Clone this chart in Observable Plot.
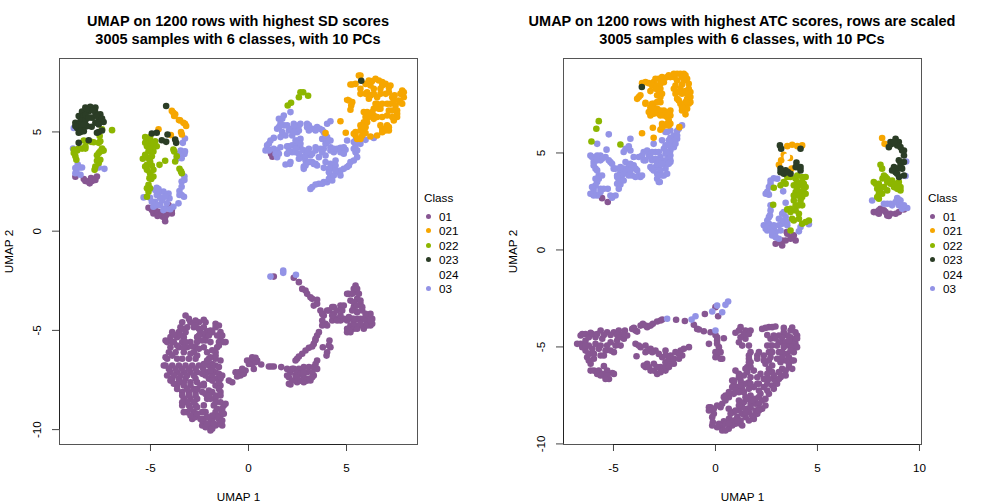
<!DOCTYPE html>
<html><head><meta charset="utf-8">
<script src="https://cdn.jsdelivr.net/npm/d3@7"></script>
<script src="https://cdn.jsdelivr.net/npm/@observablehq/plot@0.6"></script>
<style>
html,body{margin:0;padding:0;background:#fff;width:1008px;height:504px;overflow:hidden}
body{font-family:"Liberation Sans",Arial,sans-serif;color:#000;position:relative}
.panel{position:absolute;top:0;width:504px;height:504px}
.title{position:absolute;top:12px;left:0;width:476px;text-align:center;font-weight:bold;font-size:14.5px;line-height:18px;white-space:nowrap}
.legend{position:absolute;left:424px;top:191px;font-size:11.7px}
.legend div{position:absolute;white-space:nowrap}
.legend i{position:absolute;width:5px;height:5px;border-radius:50%}
svg{position:absolute;left:0;top:0;overflow:visible}
</style></head><body>
<div id="root"></div>
<script>
const classes = ["01","021","022","023","024","03"];
const classColors = ["#875692","#F6A600","#8DB600","#2B3D26","#FFFFFF","#9393E6"];
const drawOrder = ["01","03","022","021","023","024"];

const sdTitle = "UMAP on 1200 rows with highest SD scores";
const atcTitle = "UMAP on 1200 rows with highest ATC scores, rows are scaled";
const subtitle = "3005 samples with 6 classes, with 10 PCs";

const sdXTicks = [-5,0,5];
const sdYTicks = [-10,-5,0,5];
const atcXTicks = [-5,0,5,10];
const atcYTicks = [-10,-5,0,5];
const sdXDomain = [-9.64,8.62];
const sdYDomain = [-10.75,8.7];
const atcXDomain = [-7.45,10.1];
const atcYDomain = [-10.03,9.87];

const sd01 = [
[-8.83,2.74],[-8.32,2.53],[-8.1,2.41],[-7.9,2.63],[-7.73,2.75],[-8.03,2.67],[-8.2,2.5],[-7.98,2.53],[-7.81,2.58],[-8.4,2.63],
[-5.1,1.18],[-4.85,0.89],[-4.64,0.77],[-4.25,0.5],[-4.37,0.72],[-4.08,1.31],[-3.91,0.89],[-4.17,0.84],[-4.59,0.97],[-4.42,0.89],[-4.25,0.72],[-4.76,1.06],[-3.91,1.06],[-4.93,1.06],
[1.15,3.9],[1.2,4.07],[1.22,3.75],
[-3.21,-4.25],
[-3.38,-4.59],[-2.96,-4.59],[-2.53,-4.59],[-2.19,-4.59],
[-3.47,-4.84],[-3.13,-4.84],[-2.79,-4.84],[-1.68,-4.84],
[-3.89,-5.09],[-3.55,-5.09],[-3.21,-5.09],[-2.45,-5.09],[-1.85,-5.09],[-1.43,-5.09],
[-3.98,-5.34],[-3.64,-5.34],[-3.3,-5.34],[-2.62,-5.34],[-2.19,-5.34],[-1.43,-5.34],
[-4.15,-5.59],[-3.81,-5.59],[-3.38,-5.59],[-2.96,-5.59],[-2.62,-5.59],[-1.94,-5.59],[-1.51,-5.59],[-1.17,-5.59],
[-3.98,-5.85],[-3.55,-5.85],[-3.13,-5.85],[-2.7,-5.85],[-2.28,-5.85],[-1.6,-5.85],
[-4.06,-6.1],[-3.72,-6.1],[-3.3,-6.1],[-2.79,-6.1],[-2.11,-6.1],[-1.68,-6.1],
[-4.15,-6.43],[-3.64,-6.43],[-3.38,-6.43],[-3.04,-6.43],[-2.7,-6.43],[-2.02,-6.43],[-1.68,-6.43],
[-4.23,-6.77],[-3.89,-6.77],[-3.55,-6.77],[-3.21,-6.77],[-2.87,-6.77],[-2.53,-6.77],[-2.02,-6.77],[-1.68,-6.77],
[-3.98,-7.11],[-3.64,-7.11],[-3.3,-7.11],[-2.96,-7.11],[-2.62,-7.11],[-2.11,-7.11],[-1.68,-7.11],
[-3.89,-7.44],[-3.55,-7.44],[-3.21,-7.44],[-2.7,-7.44],[-2.02,-7.44],[-1.6,-7.44],[-1.43,-7.44],
[-3.64,-7.78],[-3.3,-7.78],[-2.96,-7.78],[-2.28,-7.78],[-1.68,-7.78],[-1.43,-7.78],
[-3.38,-8.11],[-3.04,-8.11],[-2.7,-8.11],[-2.36,-8.11],[-1.85,-8.11],[-1.43,-8.11],
[-3.3,-8.45],[-2.96,-8.45],[-2.62,-8.45],[-2.11,-8.45],[-1.68,-8.45],
[-3.38,-8.78],[-3.04,-8.78],[-2.7,-8.78],[-2.28,-8.78],[-1.77,-8.78],[-1.26,-8.78],
[-3.13,-9.12],[-2.79,-9.12],[-2.19,-9.12],[-1.68,-9.12],[-1.34,-9.12],
[-2.87,-9.46],[-2.28,-9.46],[-1.94,-9.46],[-1.51,-9.46],
[-2.36,-9.79],[-2.02,-9.79],[-1.68,-9.79],[-1.34,-9.79],[-1.94,-10.04],
[-3.04,-4.42],[-2.7,-4.5],[-2.28,-4.47],[-1.68,-4.67],[-1.51,-4.75],[-3.38,-4.92],[-2.53,-4.92],[-2.11,-5.04],[-3.47,-5.26],[-3.81,-5.21],[-3.21,-5.59],[-2.36,-5.17],[-1.6,-5.26],[-1.34,-5.26],[-1.26,-5.59],[-3.89,-5.59],[-3.64,-5.76],[-3.3,-5.88],[-2.87,-5.81],[-2.53,-5.93],[-1.51,-5.76],[-4.23,-5.51],[-4.23,-6.35],[-3.89,-6.27],[-2.96,-6.18],[-2.62,-6.27],[-1.94,-6.35],[-1.68,-6.27],[-1.85,-6.69],[-1.51,-6.85],[-4.06,-6.94],[-3.72,-6.94],[-3.38,-6.94],[-3.04,-6.94],[-2.7,-6.94],[-1.85,-6.94],[-1.51,-7.19],[-3.81,-7.27],[-3.47,-7.27],[-3.13,-7.27],[-2.79,-7.27],[-2.19,-7.27],[-1.85,-7.27],[-3.3,-7.61],[-2.96,-7.61],[-3.55,-7.61],[-1.85,-7.53],[-1.51,-7.61],[-2.79,-7.95],[-3.13,-7.95],[-3.38,-8.28],[-3.04,-8.28],[-2.7,-8.28],[-1.51,-7.95],[-1.68,-8.28],[-1.43,-8.28],[-3.13,-8.62],[-2.79,-8.62],[-1.94,-8.45],[-1.68,-8.62],[-1.43,-8.62],[-2.96,-8.95],[-2.62,-8.87],[-1.6,-8.95],[-2.11,-9.37],[-1.85,-9.54],[-2.7,-9.37],[-2.96,-9.29],[-1.43,-9.29],[-2.19,-9.88],[-1.85,-9.96],[-1.51,-9.71],[-2.36,-9.54],[-1.6,-9.37],[-2.36,-9.12],
[-2.31,-6.94],[-2.36,-7.19],[-2.28,-6.69],[-2.28,-7.69],[-2.02,-8.03],[-2.19,-8.2],[-2.02,-8.28],[-2.62,-7.95],[-2.45,-7.78],[-2.62,-7.61],[-2.19,-5.51],[-2.36,-5.51],[-2.02,-5.26],[-1.94,-5.01],[-2.7,-4.75],[-2.28,-4.84],[-2.53,-5.26],[-2.11,-6.52],[-1.85,-6.0],[-1.94,-7.02],[-1.43,-6.52],[-1.34,-7.27],[-1.43,-7.36],[-4.32,-6.77],[-4.15,-7.27],[-3.98,-7.53],[-3.81,-7.69],[-3.64,-7.95],[-3.38,-8.62],[-3.3,-9.12],[-2.45,-9.46],[-2.62,-9.2],[-2.11,-9.71],[-1.34,-8.95],[-1.26,-9.2],[-1.34,-9.54],[-1.17,-8.7],[-1.77,-9.71],[-1.85,-9.29],
[-0.83,-7.61],[-1.0,-7.53],[-0.66,-7.11],[-0.41,-7.27],[-0.15,-7.02],[-0.07,-6.52],[0.19,-6.35],[0.44,-6.52],[0.19,-6.69],[0.65,-6.72],[0.27,-6.94],[1.04,-6.82],[1.29,-6.82],[1.67,-6.85],
[-0.49,-7.11],[-0.24,-7.19],[-0.32,-6.94],[-0.58,-7.32],[0.1,-6.52],[0.36,-6.6],[0.02,-6.69],[0.36,-6.38],[1.16,-6.82],
[1.97,-6.94],[2.23,-6.94],[2.06,-7.36],[2.14,-7.73],[2.4,-7.27],[2.57,-6.94],[2.82,-6.85],[3.08,-6.85],[3.33,-6.85],[3.5,-6.52],[3.5,-6.94],[3.33,-7.27],[3.16,-7.52],[2.82,-7.36],[2.48,-7.61],
[2.14,-7.11],[2.31,-6.94],[2.48,-7.11],[2.65,-7.19],[2.65,-7.53],[2.99,-7.11],[3.25,-7.11],[3.42,-6.69],[3.08,-7.44],[2.23,-7.53],[1.97,-7.27],[2.99,-7.53],[2.06,-7.69],[2.82,-7.61],[3.25,-7.36],[2.82,-7.11],[2.48,-7.36],
[2.48,-6.43],[2.74,-6.18],[3.08,-5.88],[3.33,-5.68],[3.5,-5.26],[3.59,-5.09],[3.41,-5.5],[2.4,-6.52],[2.57,-6.32],[2.91,-6.01],[3.25,-5.81],[3.42,-5.43],
[3.79,-5.85],[4.13,-5.51],[4.18,-5.85],[3.98,-6.27],[4.01,-6.1],[4.1,-5.76],
[1.29,-2.29],[2.31,-2.35],[2.57,-2.57],[2.74,-2.91],[2.99,-3.16],[3.25,-3.41],[3.5,-3.46],[3.33,-3.75],[3.67,-4.0],[3.84,-4.25],[4.1,-4.0],[4.35,-3.83],[4.69,-3.75],[3.93,-4.67],[4.27,-4.5],[4.69,-4.5],[4.35,-4.17],
[3.16,-3.33],[2.91,-2.99],[3.5,-3.66],[3.76,-4.17],[3.76,-4.5],[4.01,-4.0],[4.27,-3.83],[4.52,-4.0],[4.86,-3.75],[4.52,-4.42],[5.03,-4.5],[4.86,-4.42],[4.52,-4.5],[4.69,-4.25],[4.27,-4.25],[4.01,-4.75],[3.76,-4.75],[4.78,-4.0],
[5.12,-3.16],[5.46,-2.74],[5.46,-3.08],[5.2,-3.5],[5.54,-3.41],[5.71,-3.66],[5.37,-3.83],[5.54,-4.08],[5.8,-4.0],[5.29,-4.42],[5.2,-4.75],[5.03,-5.09],[5.37,-4.92],[5.63,-4.75],[5.88,-4.92],[6.22,-4.75],[6.31,-4.42],[6.05,-4.33],[6.22,-4.17],[5.71,-4.42],
[5.03,-3.16],[5.29,-3.16],[5.37,-2.91],[5.54,-2.91],[5.63,-3.16],[5.71,-3.5],[5.37,-3.58],[5.29,-4.0],[5.54,-3.75],[5.8,-3.83],[5.03,-4.92],[5.2,-5.09],[5.54,-4.92],[5.8,-4.75],[6.05,-4.75],[6.05,-4.59],[6.31,-4.67],[5.37,-4.67],[5.54,-4.42],[5.88,-4.42],[6.22,-4.5],[5.97,-4.17],[5.71,-4.67],[5.37,-4.42],[5.12,-4.33],[5.12,-5.0]
];
const sd021 = [
[-3.91,6.06],[-3.79,5.8],[-3.32,5.46],[-3.18,5.3],[-3.44,5.0],[-4.59,5.13],[-3.96,4.84],[-3.83,5.97],[-3.4,4.87],[-3.55,5.6],[-3.74,5.89],[-3.49,5.58],[-3.24,5.41],
[5.71,7.84],[5.29,7.39],[5.97,7.42],[6.31,7.56],[6.65,7.59],[6.99,7.42],[7.16,7.22],[6.73,7.17],[6.39,7.17],[6.05,7.0],[5.71,6.92],[7.84,7.09],[7.92,6.75],[7.67,6.58],[7.33,6.75],[7.0,6.92],[6.56,6.75],[6.14,6.67],[6.48,6.42],[7.07,6.42],[7.5,6.33],[6.73,6.17],[7.16,6.08],[6.05,6.0],[6.39,5.83],[6.14,5.75],[7.58,5.75],[7.41,5.58],[6.82,5.75],[5.88,5.49],[5.97,5.24],[7.07,5.33],[6.82,5.16],[7.16,5.07],[5.71,5.07],[5.8,4.82],[5.46,4.82],[5.12,6.58],[5.24,6.33],[5.2,6.12],[4.69,5.54],[4.96,4.96],[6.22,4.77],[6.56,4.82],[3.93,4.94],[6.82,7.34],
[5.46,7.42],[6.14,7.59],[6.48,7.68],[6.82,7.51],[7.24,7.34],[6.22,7.34],[5.97,6.92],[6.39,6.92],[6.22,6.84],[7.16,7.0],[6.73,6.92],[7.75,6.92],[7.45,6.84],[7.92,7.0],[7.75,6.5],[7.24,6.42],[6.82,6.42],[6.65,6.17],[6.39,6.17],[7.58,6.08],[7.33,6.08],[5.88,6.0],[6.31,6.0],[6.56,5.75],[5.97,5.75],[7.33,5.75],[7.07,5.83],[6.05,5.49],[5.71,5.33],[6.99,5.07],[6.73,5.33],[7.16,5.24],[5.88,5.07],[5.54,4.65],[5.97,4.94],[5.37,4.91],[5.71,4.65],[7.58,5.91],[5.63,7.84],[5.2,7.39],[5.03,6.62],[5.29,6.5],
[5.46,4.99],[6.82,4.99],[5.88,5.24],[6.14,5.91],[6.39,5.66],[7.84,6.42],[7.41,6.58],[6.56,6.42],[5.71,7.17]
];
const sd022 = [
[-6.96,5.09],[-7.47,5.13],[-7.59,4.79],[-7.64,4.45],[-8.03,4.5],[-8.4,4.57],[-8.49,4.16],[-8.74,4.06],[-8.91,3.94],[-8.78,3.6],[-7.56,4.02],[-7.73,3.82],[-7.64,3.43],[-7.39,4.06],[-7.85,3.09],[-8.32,4.16],
[-8.24,4.53],[-7.9,4.48],[-7.56,4.53],[-8.66,4.16],[-8.83,3.77],[-7.64,3.94],[-7.47,4.16],[-7.73,3.55],[-7.56,3.6],[-7.81,3.26],[-8.32,4.28],[-8.91,4.11],
[-5.18,4.62],[-5.02,4.53],[-4.76,4.53],[-5.18,4.28],[-4.93,4.28],[-4.68,4.28],[-5.1,4.02],[-4.85,4.02],[-5.39,3.65],[-5.1,3.68],[-4.93,3.77],[-5.18,3.34],[-4.93,3.31],[-5.18,3.09],[-5.02,2.92],[-4.54,3.34],[-4.25,3.55],[-3.83,4.11],[-3.66,3.77],[-3.44,3.01],[-4.96,2.63],[-5.1,2.33],[-5.1,1.99],[-5.18,1.73],[-3.74,3.51],
[-5.27,4.45],[-5.02,4.74],[-5.27,4.74],[-4.85,4.45],[-5.05,4.11],[-5.27,3.85],[-5.02,3.52],[-5.27,3.26],[-4.85,3.09],[-5.05,2.67],[-4.85,2.75],[-5.18,2.16],[-5.02,2.16],[-3.79,4.02],[-3.52,3.14],[-3.4,2.92],
[2.79,7.0],[3.04,6.82],[2.57,6.75],[2.17,6.47],[2.0,6.33],[2.65,7.0]
];
const sd023 = [
[-8.32,6.23],[-8.07,6.26],[-7.81,6.23],[-8.49,6.03],[-8.15,6.03],[-7.81,5.98],[-7.56,5.89],[-8.66,5.8],[-8.4,5.8],[-7.98,5.72],[-7.64,5.63],[-7.39,5.5],[-8.83,5.46],[-8.57,5.55],[-8.32,5.58],[-7.81,5.46],[-8.74,5.2],[-8.49,5.2],[-8.24,5.29],[-8.0,5.26],[-8.66,4.96],[-8.4,5.04],[-7.64,5.0],[-7.73,4.96],[-8.66,4.45],[-8.15,4.58],[-7.47,5.07],
[-8.24,6.14],[-7.93,6.09],[-8.32,5.85],[-7.73,5.8],[-7.47,5.68],[-8.15,5.72],[-8.61,5.38],[-8.83,5.3],[-8.4,5.38],[-7.64,5.38],[-8.57,5.0],
[-4.2,6.31],[-4.93,4.92],[-4.68,4.96],[-4.13,4.87],[-4.42,4.58],[-4.2,4.5],[-3.74,4.62],[-3.69,4.45],
[5.75,7.58]
];
const sd024 = [[3.3,6.2],[4.9,6.9]];
const sd03 = [
[-8.91,5.2],[-8.95,4.16],[-8.71,3.35],[-8.49,3.21],[-8.78,3.01],[-8.57,2.84],[-7.81,3.18],[-7.35,3.14],[-8.83,3.18],[-8.61,3.21],[-8.83,2.92],[-7.64,3.21],
[-3.24,4.67],[-3.35,4.45],[-3.46,4.06],[-3.27,3.89],[-3.41,3.68],[-3.66,3.65],[-3.27,2.75],[-3.41,2.5],[-3.52,2.02],[-3.41,1.82],[-3.29,1.73],[-3.57,1.4],[-4.68,2.19],[-4.34,1.99],[-4.08,1.9],[-4.59,1.9],[-5.35,1.7],[-5.02,1.68],[-4.76,1.48],[-4.42,1.56],[-4.03,1.65],[-4.85,1.23],[-4.51,1.31],[-3.99,1.11],[-4.25,1.14],
[-4.68,1.82],[-4.25,1.74],[-4.51,1.68],[-4.76,2.07],[-4.59,2.12],[-4.93,1.48],[-4.68,1.31],[-4.17,1.4],[-4.34,1.06],[-3.83,1.23],[-3.41,2.24],[-3.52,1.82],[-3.27,2.58],[-3.24,4.02],[-3.57,3.89],
[1.72,5.66],[2.14,6.0],[1.55,5.24],[1.8,5.33],[1.72,4.99],[2.06,5.07],[2.31,5.41],[2.57,5.33],[2.48,4.99],[2.23,4.82],[1.89,4.82],[2.99,5.41],[3.25,5.16],[3.5,5.24],[3.76,5.1],[4.01,5.41],[4.18,5.54],[1.29,4.7],[1.04,4.4],[0.87,4.07],[1.46,4.07],[2.06,4.27],[2.48,4.57],[2.65,4.2],[2.4,3.98],[1.97,3.9],[2.74,3.73],[3.08,4.15],[3.42,4.23],[4.01,4.74],[3.93,4.4],[4.18,4.23],[3.76,3.98],[3.16,3.81],[2.91,3.56],[3.25,3.48],[3.5,3.31],[2.82,3.14],[2.14,3.48],[1.89,3.36],[4.52,4.15],[4.95,4.1],[4.69,3.98],[5.03,4.57],[5.46,4.32],[5.71,4.4],[5.97,4.6],[5.46,3.98],[5.54,3.73],[5.2,3.48],[5.03,3.23],[4.69,3.06],[4.35,3.14],[3.93,3.48],[3.84,3.19],[4.18,2.8],[4.01,2.47],[3.59,2.39],[3.25,2.22],[1.46,3.73],[4.44,3.56],[6.39,4.7],
[1.55,5.66],[1.8,5.83],[1.63,5.41],[1.46,5.16],[1.97,5.33],[2.14,5.16],[2.4,5.24],[2.57,5.07],[2.31,4.99],[2.65,5.41],[3.08,5.33],[3.42,5.07],[3.64,5.16],[1.63,4.74],[1.12,4.57],[0.95,4.32],[1.04,4.07],[1.55,3.9],[1.97,4.27],[2.23,4.32],[2.48,4.32],[2.4,4.57],[2.65,4.65],[2.65,4.4],[2.82,4.07],[2.57,3.9],[2.23,3.98],[2.06,4.03],[2.57,3.65],[2.91,3.81],[3.25,3.9],[3.0,3.98],[3.42,4.07],[3.59,3.73],[3.08,3.48],[3.42,3.39],[3.76,4.65],[4.01,4.49],[3.84,4.15],[4.1,4.57],[4.18,4.07],[3.93,3.81],[4.35,3.98],[4.69,4.2],[4.86,3.9],[5.46,4.57],[5.63,4.57],[5.37,4.15],[5.54,4.07],[5.37,3.56],[5.12,3.31],[4.86,3.14],[4.61,2.97],[4.1,3.14],[4.18,3.39],[4.44,3.31],[4.35,2.81],[4.1,2.64],[3.84,2.47],[3.42,2.35],[3.16,2.13],[2.11,3.39],[3.33,3.39],[2.82,3.26],
[1.63,4.23],[1.29,4.15],[1.38,3.9],[2.4,4.15],[2.91,3.31],[3.67,4.15],[4.35,4.15],[4.86,4.23],[4.69,2.81],[4.44,3.06],[4.1,2.97],[4.27,2.55],[3.76,2.39],[5.37,4.49],[3.08,5.07],[3.84,4.99],[2.99,5.24],[3.93,4.82],[4.18,4.57],
[1.12,-2.29],[1.77,-1.98],[1.77,-2.1],[2.42,-2.2]
];

const atc01 = [
[-5.56,2.67],[-5.28,2.47],
[2.95,0.32],[3.27,0.23],[3.27,0.49],[3.49,0.92],[3.76,0.66],[3.93,0.49],[3.11,0.4],[3.44,0.49],[3.52,0.84],[3.68,0.58],[3.84,0.75],
[7.85,1.95],[8.09,2.12],[8.34,1.95],[8.5,1.75],[8.83,1.87],[9.24,2.09],[8.01,2.04],[8.26,2.04],[8.01,1.87],[8.58,1.87],[8.42,1.78],[8.99,1.95],[7.76,1.95],
[-6.61,-4.41],[-6.61,-4.84],[-6.37,-4.33],[-6.12,-4.27],[-6.37,-4.67],[-5.88,-4.5],[-5.63,-4.15],[-5.55,-4.58],[-5.31,-4.24],[-4.98,-4.24],[-4.74,-4.15],[-4.44,-4.15],[-4.49,-4.58],[-4.33,-4.41],[-4.82,-4.67],[-5.14,-4.76],[-6.37,-5.19],[-6.04,-5.1],[-5.72,-5.1],[-5.39,-5.19],[-4.98,-5.27],[-4.65,-4.93],[-6.29,-5.53],[-5.63,-5.44],[-6.12,-5.87],[-6.12,-6.22],[-5.8,-6.39],[-5.47,-6.47],[-5.22,-6.65],[-5.06,-6.34],[-5.47,-5.99],[-5.96,-5.61],[-5.31,-6.22],
[-6.53,-4.33],[-6.78,-4.84],[-6.53,-5.01],[-6.21,-4.5],[-6.04,-4.33],[-6.21,-4.93],[-5.88,-4.84],[-5.63,-4.93],[-5.8,-4.33],[-5.47,-4.38],[-5.14,-4.38],[-4.82,-4.38],[-4.57,-4.38],[-5.31,-4.93],[-4.74,-4.5],[-4.9,-4.93],[-5.14,-5.19],[-5.47,-5.44],[-6.37,-4.93],[-6.21,-5.36],[-5.96,-5.36],[-6.21,-5.7],[-5.96,-6.22],[-5.72,-6.22],[-5.55,-6.39],[-5.31,-6.47],[-4.98,-6.39],[-5.63,-6.47],[-5.39,-6.65],
[-4.0,-4.02],[-3.84,-4.21],[-3.56,-3.81],[-3.35,-3.98],[-3.07,-3.81],[-2.86,-3.69],[-2.61,-3.59],[-1.93,-3.6],[-1.5,-3.66],[-3.67,-3.9],[-3.43,-3.9],[-3.18,-3.9],[-2.69,-3.64],[-3.92,-4.15],[-4.08,-4.07],
[-3.92,-4.84],[-3.87,-5.48],[-3.67,-5.01],[-3.43,-4.93],[-3.43,-5.27],[-3.18,-5.1],[-2.94,-5.19],[-3.35,-5.87],[-3.43,-6.04],[-3.18,-6.22],[-2.86,-6.39],[-2.69,-6.04],[-2.45,-5.79],[-2.61,-5.53],[-2.2,-5.44],[-1.96,-5.27],[-1.71,-5.19],[-1.63,-5.44],[-1.3,-5.01],[-2.04,-5.87],[-2.45,-6.22],[-3.02,-5.87],[-2.45,-5.19],
[-3.76,-4.93],[-3.27,-5.19],[-3.1,-5.27],[-2.78,-5.36],[-3.51,-5.96],[-3.27,-6.04],[-3.02,-6.22],[-2.69,-6.3],[-2.45,-6.04],[-2.2,-5.87],[-2.28,-5.61],[-2.04,-5.61],[-1.79,-5.36],[-1.55,-5.1],[-1.79,-5.61],[-2.86,-6.04],[-2.45,-5.44],[-2.28,-6.04],
[-0.52,-3.3],[0,-2.95],[0.13,-3.42],[-1.06,-3.86],[-0.9,-4.07],[-0.57,-4.19],[-0.24,-4.24],[0,-4.38],[0.41,-4.55],[0.08,-4.67],[-0.32,-4.84],[0.17,-5.01],[0.08,-5.44],[0.33,-5.61],[0.08,-4.84],[0.25,-5.27],[0,-5.27],[0.25,-5.61],[0,-5.53],[0.08,-4.5],[-0.81,-4.1],
[1.23,-3.98],[1.47,-4.15],[1.72,-4.15],[0.98,-4.27],[2.29,-4.07],[2.62,-3.98],[2.94,-3.95],[3.35,-4.02],[3.76,-4.0],[4.0,-4.41],[1.15,-4.76],[1.47,-4.58],[1.64,-4.93],[2.7,-4.58],[3.11,-4.41],[3.52,-4.41],[3.92,-4.84],[2.78,-4.93],[3.27,-4.76],[3.6,-4.93],[1.64,-5.44],[2.05,-5.44],[2.62,-5.27],[3.11,-5.27],[3.52,-5.36],[3.84,-5.27],[0.98,-6.22],[1.72,-5.79],[2.62,-5.7],[3.02,-5.61],[3.44,-5.7],[3.76,-5.7],[1.56,-6.3],[1.88,-6.22],[2.62,-6.13],[3.27,-6.13],[3.6,-6.04],[0.9,-6.82],[1.23,-6.73],[1.64,-6.82],[2.05,-6.56],[2.37,-6.65],[2.86,-6.65],[3.19,-6.56],[1.07,-7.07],[1.88,-7.07],[2.37,-7.07],[2.78,-6.99],[3.02,-6.9],[0.49,-7.5],[0.9,-7.42],[1.39,-7.33],[1.72,-7.5],[2.21,-7.42],[2.62,-7.42],[0.33,-7.93],[1.15,-7.76],[1.39,-7.85],[1.96,-7.93],[2.29,-7.76],[-0.24,-8.11],[0.08,-8.02],[0.65,-8.19],[1.15,-8.28],[1.56,-8.19],[1.96,-8.28],[2.29,-8.19],[-0.08,-8.45],[0.74,-8.79],[1.07,-8.62],[1.48,-8.62],[1.88,-8.71],[-0.13,-8.88],[0.33,-9.14],[0.65,-9.22],[0.98,-8.96],[0.33,-9.31],[0.41,-8.84],
[1.15,-4.15],[1.39,-4.33],[1.64,-4.33],[2.45,-4.02],[2.78,-3.98],[3.35,-4.24],[3.68,-4.15],[3.92,-4.24],[2.86,-4.41],[3.27,-4.5],[3.68,-4.5],[3.92,-4.58],[3.76,-4.76],[3.44,-4.76],[3.11,-4.76],[2.7,-4.93],[3.02,-4.93],[3.35,-5.01],[3.76,-5.01],[2.78,-5.27],[3.27,-5.27],[3.68,-5.19],[4.0,-5.01],[2.7,-5.53],[3.27,-5.53],[3.6,-5.53],[1.72,-5.27],[2.13,-5.27],[1.64,-5.61],[2.45,-5.87],[2.78,-5.96],[3.19,-5.79],[3.6,-5.87],[1.72,-6.04],[1.56,-6.04],[2.21,-6.39],[2.54,-6.39],[2.78,-6.3],[3.11,-6.3],[3.44,-6.22],[1.39,-6.47],[1.72,-6.56],[1.15,-6.56],[0.82,-6.73],[1.47,-6.9],[2.13,-6.9],[2.54,-6.9],[2.94,-6.73],[0.82,-7.07],[1.31,-7.16],[1.64,-7.16],[2.13,-7.25],[2.54,-7.25],[2.86,-7.16],[0.66,-7.59],[1.47,-7.59],[1.96,-7.68],[2.45,-7.68],[0.49,-7.76],[1.72,-7.93],[2.13,-7.93],[-0.32,-8.11],[-0.08,-8.19],[0.25,-8.11],[1.31,-8.11],[1.72,-8.11],[2.13,-8.19],[0.9,-8.36],[1.31,-8.45],[1.64,-8.36],[2.05,-8.45],[-0.16,-8.62],[0.66,-8.71],[0.9,-8.79],[1.23,-8.79],[1.64,-8.79],[0.49,-8.96],[0.17,-8.96],[0.82,-9.05],[0.08,-9.14],[0.49,-9.31],[-0.16,-9.05],[1.23,-8.96],
[2.05,-5.61],[2.37,-5.44],[2.37,-5.7],[2.54,-4.93],[2.54,-4.39],[2.94,-4.56],[3.6,-4.67],[4.0,-4.56],[3.84,-5.7],[3.76,-6.13],[3.44,-6.47],[3.11,-6.65],[3.27,-6.47],[2.86,-6.47],[2.62,-6.65],[2.05,-6.9],[1.72,-6.9],[1.23,-6.99],[0.98,-7.25],[0.66,-7.33],[0.41,-7.59],[1.15,-7.33],[2.13,-7.59],[1.8,-7.76],[1.56,-7.68],[1.15,-8.02],[0.98,-8.28],[0.74,-8.45],[1.47,-8.36],[1.8,-8.54],[2.13,-8.28],[2.45,-8.02],[1.31,-9.05],[1.07,-8.79],[0.66,-8.96],[-0.32,-8.28],[0.9,-6.73],[1.15,-6.39],[1.47,-6.13],[1.64,-5.79],[1.31,-4.93],[1.23,-4.5]
];
const atc021 = [
[-1.72,9.08],[-1.47,9.0],[-2.04,8.91],[-2.37,8.91],[-2.78,8.82],[-3.6,8.6],[-3.27,8.6],[-3.03,8.65],[-2.7,8.57],[-1.96,8.48],[-1.64,8.53],[-1.31,8.57],[-3.19,8.19],[-2.78,8.22],[-1.88,8.14],[-1.47,8.19],[-1.23,8.14],[-3.68,7.97],[-3.84,7.79],[-2.7,7.88],[-1.8,7.71],[-1.39,7.79],[-3.43,7.59],[-3.03,7.54],[-2.7,7.62],[-1.31,7.54],[-1.47,7.36],[-3.19,7.19],[-2.86,7.28],[-2.53,7.19],[-2.21,7.19],[-3.19,6.93],[-2.78,7.02],[-2.21,6.93],[-1.47,6.99],[-2.29,6.68],[-2.45,6.42],[-2.7,6.2],[-2.21,6.5],[-3.07,6.3],[-3.6,6.02],[-1.77,6.33],[-3.03,5.78],
[-1.88,9.08],[-1.64,8.91],[-1.39,8.82],[-2.21,8.91],[-2.62,8.91],[-2.94,8.82],[-3.43,8.65],[-2.53,8.65],[-3.11,8.48],[-2.86,8.48],[-2.7,8.31],[-2.04,8.31],[-1.72,8.31],[-1.31,8.31],[-1.96,8.05],[-1.64,8.05],[-1.39,8.05],[-3.76,7.88],[-2.86,7.97],[-1.47,7.62],[-1.72,7.54],[-1.23,7.62],[-3.03,7.28],[-3.27,7.11],[-3.03,7.02],[-2.7,7.19],[-2.45,7.02],[-3.11,7.54],[-2.86,7.62],[-3.43,7.54],[-2.29,7.11],[-2.37,6.5],[-2.62,6.33],[-1.64,7.19],
[-1.88,8.74],[-1.55,8.74],[-1.88,7.79],[-1.23,7.88],[-3.19,7.36],[-2.53,6.93],[-2.7,6.93],[-2.37,6.85],[-2.62,6.5],[-2.29,6.42],[-2.94,8.31],[-2.62,8.05],[-2.29,9.0],[-2.04,9.08],[-1.55,9.08],[-1.39,7.28],[-1.64,7.36],
[3.52,5.35],[3.76,5.42],[4.01,5.35],[4.25,5.39],[3.35,4.91],[3.22,4.62],[3.11,4.39],[3.65,4.74],[3.73,4.19],
[8.17,5.77],[8.29,5.47]
];
const atc022 = [
[-5.72,6.64],[-5.84,6.25],[-6.08,5.59],[-4.66,5.44],
[3.93,3.67],[4.25,3.76],[4.42,3.76],[3.44,3.41],[2.86,3.21],[3.52,3.76],[4.09,3.33],[4.33,3.41],[4.17,2.98],[4.42,2.9],[3.93,2.98],[4.17,2.55],[4.25,2.3],[3.84,2.55],[3.52,2.09],[3.93,2.04],[4.09,1.87],[2.83,2.33],[4.58,1.52],[4.25,1.35],[3.84,1.52],[3.68,1.0],
[4.01,3.84],[3.68,3.76],[3.35,3.5],[3.19,3.33],[4.25,3.5],[4.01,3.5],[3.84,3.33],[4.33,3.15],[4.01,3.15],[4.01,2.81],[4.25,2.73],[3.84,2.81],[4.42,3.24],[3.93,2.3],[4.09,2.3],[3.68,2.12],[4.09,1.61],[3.76,1.61],[4.42,1.44],[3.68,1.95],
[8.09,4.39],[8.34,3.76],[8.19,3.68],[7.85,3.41],[8.09,3.15],[8.42,3.5],[8.66,3.58],[8.99,3.5],[8.75,3.24],[8.42,3.07],[8.17,2.9],[8.01,2.64],[9.07,3.07],
[8.01,3.41],[7.76,3.5],[7.93,3.15],[8.26,3.84],[8.42,3.67],[8.26,3.24],[8.58,3.41],[8.83,3.41],[9.07,3.24],[8.01,2.9],[7.93,2.73],[8.91,3.15],[8.17,4.19]
];
const atc023 = [
[-3.61,8.4],
[3.16,5.39],[3.22,5.22],[4.17,5.22],[3.97,4.5],[3.93,4.27],[4.17,4.1],[3.19,4.01],[3.44,4.1],[3.68,3.93],[3.35,3.93],[3.19,4.19],[3.55,4.01],[4.01,4.27],[4.17,4.27],
[8.83,5.73],[8.58,5.56],[8.99,5.56],[9.15,5.13],[9.24,4.87],[8.99,4.62],[8.75,4.27],[9.07,4.27],[8.83,4.01],[9.24,3.84],[9.0,3.76],[8.66,5.47],[8.91,5.39],
[8.75,5.56],[9.07,5.3],[9.24,5.13],[9.24,4.53],[9.07,4.44],[8.91,4.19],[8.66,4.1],[9.15,4.19],[8.91,3.93],[8.5,5.3]
];
const atc024 = [[3.5,4.8],[-4.9,5.9]];
const atc03 = [
[-5.23,5.96],[-5.8,5.47],[-4.17,5.73],[-5.34,5.17],[-6.13,4.87],[-5.64,4.87],[-5.39,4.79],[-5.97,4.53],[-5.15,4.53],[-5.88,4.19],[-5.72,3.84],[-5.8,3.5],[-5.97,3.15],[-5.64,3.15],[-6.05,2.9],[-5.8,2.81],[-5.28,3.15],[-5.07,2.76],[-4.99,4.19],[-4.66,4.01],[-4.74,3.58],[-4.74,3.15],[-4.41,4.53],[-4.25,4.27],[-4.01,4.36],[-4.33,3.93],[-4.09,3.84],[-3.68,3.76],[-4.41,5.22],[-4.17,5.13],[-3.76,4.79],[-3.52,5.05],[-3.27,4.87],[-2.94,5.05],[-3.03,5.47],[-2.62,5.65],[-2.45,6.08],[-2.21,6.16],[-1.88,6.13],[-1.64,6.42],[-2.21,5.78],[-1.88,5.73],[-2.13,5.47],[-2.53,5.22],[-2.21,5.13],[-2.29,4.79],[-2.7,4.79],[-3.11,4.62],[-3.11,4.19],[-2.78,4.27],[-2.45,4.19],[-2.53,3.84],[-2.78,3.5],[-3.52,4.62],[-2.86,3.93],
[-6.05,4.79],[-5.97,4.36],[-5.8,4.1],[-5.88,3.67],[-5.72,3.67],[-5.88,3.33],[-5.97,2.98],[-5.64,2.98],[-5.8,4.87],[-5.23,4.62],[-5.56,4.7],[-5.07,4.44],[-4.9,4.19],[-4.82,3.84],[-4.58,3.84],[-4.82,3.41],[-4.66,3.38],[-4.5,4.19],[-4.17,4.44],[-3.92,4.19],[-4.41,4.01],[-4.25,3.84],[-3.92,3.76],[-3.76,3.84],[-4.5,5.05],[-4.25,5.34],[-4.01,4.79],[-3.6,4.87],[-3.35,5.13],[-3.11,5.05],[-2.78,5.05],[-3.43,4.62],[-3.19,4.79],[-2.94,4.7],[-2.45,4.62],[-2.21,4.62],[-2.45,4.96],[-2.7,4.62],[-2.04,5.9],[-2.37,6.08],[-1.88,5.9],[-2.04,5.65],[-2.29,5.65],[-2.45,5.39],[-2.29,5.39],[-2.21,4.87],[-2.94,4.27],[-3.19,4.27],[-2.7,4.1],[-2.45,4.36],[-2.62,3.84],[-2.86,3.67],[-2.73,3.5],[-1.8,6.25],[-5.07,2.69],[-5.97,2.81],
[-5.64,4.62],[-5.8,4.62],[-5.56,3.84],[-6.13,2.9],[-6.05,3.24],[-5.48,3.15],[-5.15,2.81],[-4.9,2.81],[-4.82,3.76],[-4.66,4.27],[-3.84,4.1],[-4.17,4.1],[-3.6,3.84],[-4.5,3.58],[-2.86,4.44],[-2.37,5.05],[-2.04,5.3],[-1.96,5.47],[-2.62,4.44],[-2.21,4.53],[-3.03,4.1],[-2.78,3.84],[-2.37,3.93],[-2.29,4.44],
[2.86,3.7],[2.7,3.41],[2.46,2.9],[2.62,2.85],[3.32,3.02],[3.44,2.43],[2.7,2.04],[2.62,1.69],[3.27,1.87],[3.44,1.69],[2.37,1.27],[2.62,1.35],[2.54,1.0],[2.86,1.09],[2.78,0.75],[3.19,1.0],[3.27,1.35],[3.52,1.27],[4.09,0.96],[4.58,1.33],[3.11,0.58],
[3.03,3.67],[2.62,3.24],[2.7,3.58],[2.54,3.0],[2.67,1.78],[2.54,1.52],[2.46,1.09],[2.7,1.09],[2.95,0.92],[2.78,0.92],[2.86,1.27],[3.11,1.27],[3.35,1.95],[3.11,1.61],[3.35,1.52],[2.95,0.66],[3.52,1.44],[4.17,1.18],[2.7,2.3],
[9.35,4.56],[9.32,3.81],[7.68,2.55],[8.91,2.67],[9.07,2.55],[8.42,2.38],[8.66,2.3],[8.99,2.3],[9.4,2.16],[9.15,2.12],[8.26,2.38],[8.83,2.47],[8.99,2.6],[9.24,2.3],[8.58,2.38],
[-2.37,-3.55],[-1.17,-3.59],[-0.98,-3.42],[-0.16,-3.17],[0.08,-2.87],[0.33,-3.21],[0.49,-2.83],[0.62,-2.66],[0,-4.15]
];

const sdSeries = {"01":sd01,"021":sd021,"022":sd022,"023":sd023,"024":sd024,"03":sd03};
const atcSeries = {"01":atc01,"021":atc021,"022":atc022,"023":atc023,"024":atc024,"03":atc03};

function table(series){
  return drawOrder.flatMap(c => series[c].map(([u1,u2]) => ({u1,u2,cls:c})));
}

function panel(offset, title, series, xDomain, yDomain, xTicks, yTicks){
  const root = document.getElementById("root");
  const p = document.createElement("div");
  p.className = "panel"; p.style.left = offset + "px";
  const chart = Plot.plot({
    width:504, height:504,
    marginLeft:59, marginRight:87, marginTop:58, marginBottom:60,
    style:{background:"transparent",fontFamily:'"Liberation Sans",Arial,sans-serif',fontSize:"11.7px",color:"#000",overflow:"visible"},
    x:{domain:xDomain},
    y:{domain:yDomain},
    color:{domain:classes,range:classColors},
    marks:[
      Plot.dot(table(series),{x:"u1",y:"u2",fill:"cls",r:3.3,stroke:"none"}),
      Plot.frame({stroke:"#555",strokeWidth:1}),
      Plot.axisX({ticks:xTicks,tickSize:7,tickPadding:12,tickFormat:d=>String(d),stroke:"#444",fill:"#000",label:"UMAP 1",labelAnchor:"center",labelArrow:"none",labelOffset:56,anchor:"bottom"}),
      Plot.axisY({ticks:yTicks,tickSize:7,tickPadding:12,tickRotate:-90,tickFormat:d=>String(d),stroke:"#444",fill:"#000",label:"UMAP 2",labelAnchor:"center",labelArrow:"none",labelOffset:55,anchor:"left"}),
      Plot.ruleX([0],{x:()=>xDomain[0],y1:yTicks[0],y2:yTicks[yTicks.length-1],stroke:"#222"}),
      Plot.ruleY([0],{y:()=>yDomain[0],x1:xTicks[0],x2:xTicks[xTicks.length-1],stroke:"#222"})
    ]
  });
  p.appendChild(chart);
  const t = document.createElement("div");
  t.className = "title";
  t.innerHTML = title + "<br>" + subtitle;
  p.appendChild(t);
  const l = document.createElement("div");
  l.className = "legend";
  const head = document.createElement("div");
  head.textContent = "Class"; head.style.left = "0px"; head.style.top = "0px";
  l.appendChild(head);
  classes.forEach((c,i)=>{
    const dot = document.createElement("i");
    dot.style.background = classColors[i];
    dot.style.left = "2px"; dot.style.top = (23 + i*14.4) + "px";
    l.appendChild(dot);
    const lab = document.createElement("div");
    lab.textContent = c; lab.style.left = "15px"; lab.style.top = (19 + i*14.4) + "px";
    l.appendChild(lab);
  });
  p.appendChild(l);
  root.appendChild(p);
}
panel(0,sdTitle,sdSeries,sdXDomain,sdYDomain,sdXTicks,sdYTicks);
panel(504,atcTitle,atcSeries,atcXDomain,atcYDomain,atcXTicks,atcYTicks);
</script>
</body></html>
